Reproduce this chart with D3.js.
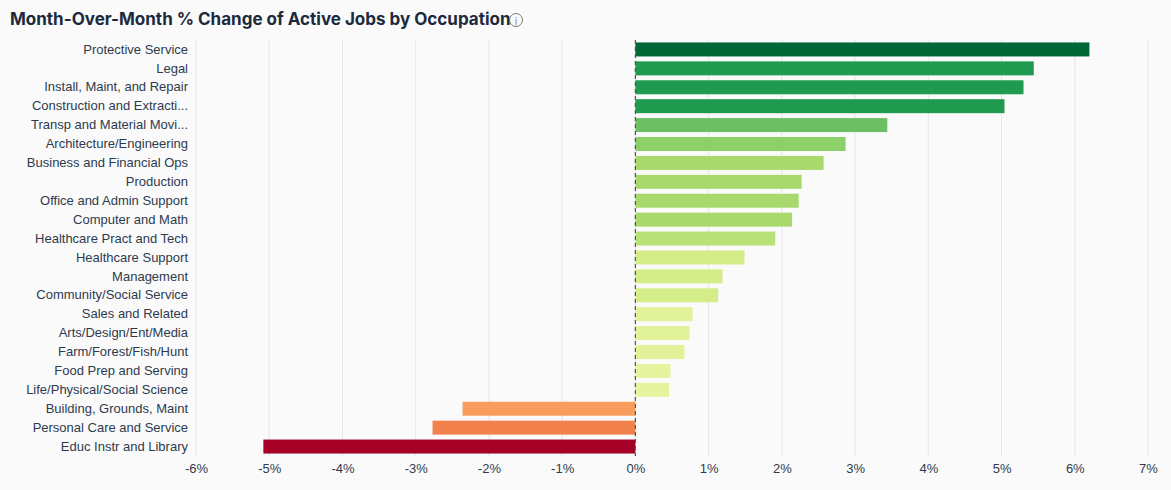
<!DOCTYPE html>
<html>
<head>
<meta charset="utf-8">
<script src="https://cdn.jsdelivr.net/npm/d3@7"></script>
<style>
  body { margin: 0; background: #fafafa; font-family: "Open Sans", sans-serif; }
  .title { font-family: Inter, "Open Sans", sans-serif; font-weight: 700; font-size: 17px; fill: #1c2a3d; }
  .tick text { font-size: 13px; fill: #2e3a4e; }
</style>
</head>
<body>
<div id="chart"></div>
<script>
// data
var occupations = ["Protective Service", "Legal", "Install, Maint, and Repair", "Construction and Extracti...",
  "Transp and Material Movi...", "Architecture/Engineering", "Business and Financial Ops", "Production",
  "Office and Admin Support", "Computer and Math", "Healthcare Pract and Tech", "Healthcare Support",
  "Management", "Community/Social Service", "Sales and Related", "Arts/Design/Ent/Media",
  "Farm/Forest/Fish/Hunt", "Food Prep and Serving", "Life/Physical/Social Science",
  "Building, Grounds, Maint", "Personal Care and Service", "Educ Instr and Library"];
var changes = [6.20, 5.44, 5.30, 5.04, 3.44, 2.87, 2.57, 2.27, 2.23, 2.14, 1.91, 1.49, 1.19, 1.13,
  0.78, 0.74, 0.67, 0.48, 0.46, -2.36, -2.77, -5.08];
var xTicks = [-6, -5, -4, -3, -2, -1, 0, 1, 2, 3, 4, 5, 6, 7];

var svgWidth = 1171, svgHeight = 490;
var margin = { top: 40, right: 23, bottom: 34, left: 196 };
var width = svgWidth - margin.left - margin.right;
var height = svgHeight - margin.top - margin.bottom;

var svg = d3.select("#chart").append("svg")
  .attr("width", svgWidth).attr("height", svgHeight);

svg.append("text").attr("class", "title").attr("x", 10).attr("y", 25)
  .text("Month-Over-Month % Change of Active Jobs by Occupation");
// info icon
svg.append("circle").attr("cx", 516).attr("cy", 20).attr("r", 6.5)
  .attr("fill", "none").attr("stroke", "#777").attr("stroke-width", 1);
svg.append("text").attr("x", 516).attr("y", 24.5).attr("text-anchor", "middle")
  .attr("font-size", "10px").attr("fill", "#777").text("i");

var g = svg.append("g").attr("transform", `translate(${margin.left}, ${margin.top})`);

var x = d3.scaleLinear().domain([-6, 7]).range([0, width]);
var y = d3.scaleBand().domain(occupations).range([0, height]).paddingInner(0.26).paddingOuter(0.13);

var color = d3.scaleThreshold()
  .domain([-4, -2.5, 0, 0.6, 1.0, 1.6, 2.0, 2.7, 3.2, 4.5, 6])
  .range(["#a50026", "#f3814e", "#f99d5e", "#e6f4a0", "#e2f298", "#d4ed88", "#b9e17a", "#a8d96c",
    "#8dcf68", "#6cbf62", "#1f9a4f", "#006837"]);

// grid
g.selectAll(".grid").data(xTicks).enter().append("line")
  .attr("x1", d => x(d)).attr("x2", d => x(d))
  .attr("y1", 0).attr("y2", height)
  .attr("stroke", "#e6e6e6").attr("stroke-width", 1);

g.selectAll(".bar").data(occupations).enter().append("rect")
  .attr("x", (d, i) => x(Math.min(0, changes[i])))
  .attr("y", d => y(d))
  .attr("width", (d, i) => Math.abs(x(changes[i]) - x(0)))
  .attr("height", y.bandwidth())
  .attr("fill", (d, i) => color(changes[i]));

// zero line
g.append("line").attr("x1", x(0)).attr("x2", x(0)).attr("y1", 0).attr("y2", height)
  .attr("stroke", "#555").attr("stroke-width", 1.2).attr("stroke-dasharray", "4,3");

var yAxis = g.append("g").call(d3.axisLeft(y).tickSize(0).tickPadding(8));
yAxis.select(".domain").remove();

var xAxis = g.append("g").attr("transform", `translate(0, ${height})`)
  .call(d3.axisBottom(x).tickValues(xTicks).tickSize(0).tickPadding(8).tickFormat(d => d + "%"));
xAxis.select(".domain").remove();
</script>
</body>
</html>
